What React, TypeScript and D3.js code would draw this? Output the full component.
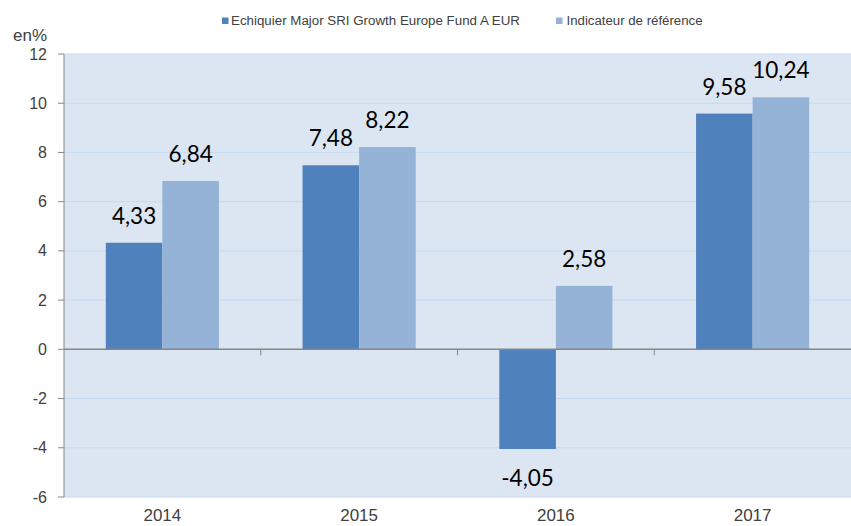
import React from "react";
import * as d3 from "d3";

const categories = ["2014", "2015", "2016", "2017"];
const fundValues = [4.33, 7.48, -4.05, 9.58];
const benchValues = [6.84, 8.22, 2.58, 10.24];
const seriesNames = ["Echiquier Major SRI Growth Europe Fund A EUR", "Indicateur de référence"];
const yTicks = [-6, -4, -2, 0, 2, 4, 6, 8, 10, 12];

const W = 851, H = 526;
const left = 64, right = 851, top = 54, bottom = 497;
const colors = ["#4F81BD", "#95B3D7"];

export default function App() {
  const x = d3.scaleBand<string>().domain(categories).range([left, right]).paddingInner(0).paddingOuter(0);
  const y = d3.scaleLinear().domain([-6, 12]).range([bottom, top]);
  const bw = x.bandwidth();
  const barW = bw * 0.2875;
  const series = [fundValues, benchValues];
  const fmt = (v: number) => v.toFixed(2).replace(".", ",");
  return (
    <svg width={W} height={H} style={{ position: "absolute", left: 0, top: 0 }}>
      <rect x={0} y={0} width={W} height={H} fill="#fff" />
      <rect x={left} y={top} width={right - left} height={bottom - top} fill="#DCE6F2" />
      {yTicks.map((t) => (
        <g key={t}>
          {t !== 0 && <line x1={left} x2={right} y1={y(t)} y2={y(t)} stroke="#C6D9F1" strokeWidth={1} />}
          <line x1={left - 6} x2={left} y1={y(t)} y2={y(t)} stroke="#868686" />
          <text x={47} y={y(t) + 5.5} textAnchor="end" fontFamily="Liberation Sans, Arial" fontSize={16} fill="#404040">{t}</text>
        </g>
      ))}
      {series.map((vals, si) =>
        vals.map((v, i) => {
          const cx = (x(categories[i]) as number) + bw / 2;
          const bx = si === 0 ? cx - barW : cx;
          const y0 = y(0), y1 = y(v);
          return (
            <g key={si + "-" + i}>
              <rect x={bx} y={Math.min(y0, y1)} width={barW} height={Math.abs(y1 - y0)} fill={colors[si]} />
              <text x={bx + barW / 2} y={v >= 0 ? y1 - 19 : y1 + 37} textAnchor="middle" fontFamily="Lato, Open Sans, sans-serif" fontSize={22.5} fill="#000">{fmt(v)}</text>
            </g>
          );
        })
      )}
      <line x1={left} x2={right} y1={y(0)} y2={y(0)} stroke="#868686" strokeWidth={1.5} />
      {categories.slice(1).map((c) => (
        <line key={c} x1={x(c) as number} x2={x(c) as number} y1={y(0)} y2={y(0) + 6} stroke="#868686" />
      ))}
      <line x1={left} x2={left} y1={top} y2={bottom} stroke="#868686" />
      {categories.map((c) => (
        <text key={c} x={(x(c) as number) + bw / 2} y={521} textAnchor="middle" fontFamily="Liberation Sans, Arial" fontSize={17} fill="#404040">{c}</text>
      ))}
      <text x={13} y={41} fontFamily="Liberation Sans, Arial" fontSize={17} fill="#404040">en%</text>
      <g fontFamily="Liberation Sans, Arial" fontSize={12.5} fill="#404040">
        <rect x={222} y={17.5} width={6.5} height={6.5} fill={colors[0]} />
        <text x={231} y={25} textLength={289} lengthAdjust="spacingAndGlyphs">{seriesNames[0]}</text>
        <rect x={556} y={17.5} width={6.5} height={6.5} fill={colors[1]} />
        <text x={566.5} y={25} textLength={136} lengthAdjust="spacingAndGlyphs">{seriesNames[1]}</text>
      </g>
    </svg>
  );
}
